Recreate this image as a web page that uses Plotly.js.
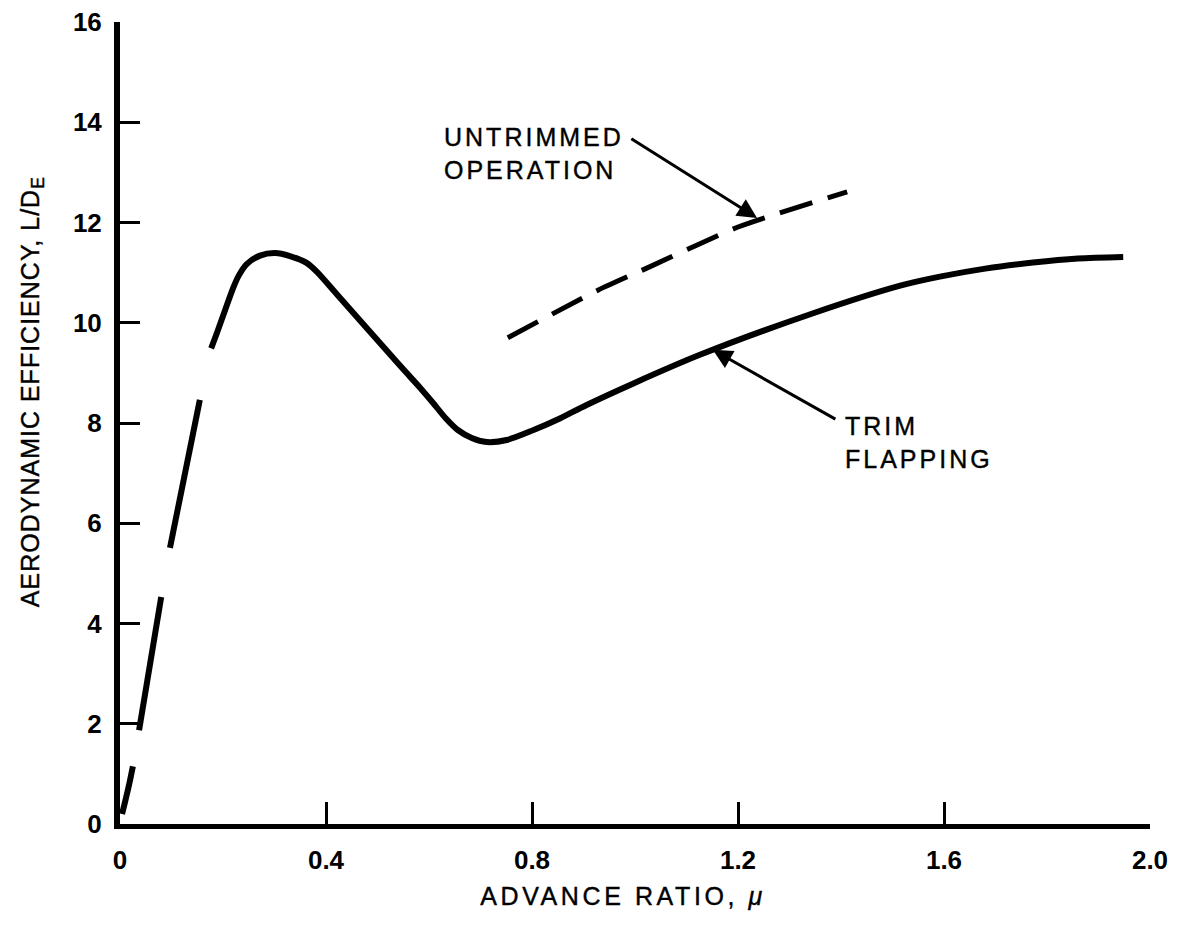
<!DOCTYPE html>
<html>
<head>
<meta charset="utf-8">
<script src="https://cdn.plot.ly/plotly-3.0.1.min.js"></script>
<style>
  html, body { margin: 0; padding: 0; background: #fff; }
  #chart { width: 1179px; height: 926px; }
  .annotation-text { letter-spacing: 3px; stroke: #000; stroke-width: 0.4px; }
  .annotation[data-index="0"] .annotation-text { letter-spacing: 3.6px; }
  .annotation[data-index="1"] .annotation-text { letter-spacing: 1px; }
</style>
</head>
<body>
<div id="chart"></div>
<script>
// Trim flapping curve (solid, drawn in broken pieces at low advance ratio)
const trimSeg1Mu = [0.004, 0.010, 0.018, 0.025];
const trimSeg1LD = [0.20, 0.45, 0.80, 1.15];
const trimSeg2Mu = [0.037, 0.080];
const trimSeg2LD = [1.87, 4.53];
const trimSeg3Mu = [0.097, 0.155];
const trimSeg3LD = [5.51, 8.46];
const trimMainMu = [0.177, 0.188, 0.204, 0.220, 0.230, 0.246, 0.272, 0.301, 0.330, 0.363, 0.382, 0.421, 0.544, 0.583, 0.608, 0.632, 0.656, 0.683, 0.712, 0.751, 0.803, 0.854, 0.906, 0.997, 1.126, 1.346, 1.515, 1.592, 1.680, 1.773, 1.860, 1.948];
const trimMainLD = [9.49, 9.79, 10.25, 10.70, 10.93, 11.17, 11.34, 11.39, 11.33, 11.19, 11.02, 10.57, 9.14, 8.70, 8.40, 8.10, 7.86, 7.70, 7.62, 7.66, 7.86, 8.09, 8.36, 8.79, 9.36, 10.19, 10.74, 10.92, 11.08, 11.20, 11.28, 11.31];

// Untrimmed operation (dashed)
const untrimMu = [0.753, 0.928, 1.023, 1.200, 1.412];
const untrimLD = [9.70, 10.65, 11.09, 11.91, 12.61];

// Axis ticks
const xTickVals = [0, 0.4, 0.8, 1.2, 1.6, 2.0];
const xTickText = ['0', '0.4', '0.8', '1.2', '1.6', '2.0'];
const yTickVals = [0, 2, 4, 6, 8, 10, 12, 14, 16];
const yTickText = ['0', '2', '4', '6', '8', '10', '12', '14', '16'];

// Labels
const xTitle = 'ADVANCE RATIO, <i>μ</i>';
const yTitle = 'AERODYNAMIC EFFICIENCY, L/D<sub>E</sub>';
const untrimLabel = 'UNTRIMMED<br>OPERATION';
const trimLabel = 'TRIM<br>FLAPPING';

const solid = {color: '#000', width: 6, shape: 'spline', smoothing: 0.8};
function seg(x, y, line) {
  return {x: x, y: y, type: 'scatter', mode: 'lines', line: line, hoverinfo: 'skip', showlegend: false};
}

const traces = [
  seg(trimSeg1Mu, trimSeg1LD, solid),
  seg(trimSeg2Mu, trimSeg2LD, solid),
  seg(trimSeg3Mu, trimSeg3LD, solid),
  seg(trimMainMu, trimMainLD, solid),
  seg(untrimMu, untrimLD, {color: '#000', width: 5, dash: '34px,16px', shape: 'spline', smoothing: 0.6})
];

const fam = 'Liberation Sans, Arial, Helvetica, sans-serif';
const textFont = {family: fam, size: 25, color: '#000'};
const tickFont = {family: fam, size: 26, color: '#000', weight: 'bold'};

const layout = {
  width: 1179, height: 926,
  margin: {l: 120, r: 29, t: 22, b: 102},
  paper_bgcolor: '#fff', plot_bgcolor: '#fff',
  showlegend: false,
  xaxis: {
    range: [0, 2.0], showgrid: false, zeroline: false,
    showline: true, linecolor: '#000', linewidth: 5,
    ticks: 'inside', ticklen: 22, tickwidth: 3, tickcolor: '#000',
    tickvals: xTickVals, ticktext: xTickText, tickfont: tickFont,
    ticklabelstandoff: 9
  },
  yaxis: {
    range: [0, 16], showgrid: false, zeroline: false,
    showline: true, linecolor: '#000', linewidth: 6,
    ticks: 'inside', ticklen: 20, tickwidth: 3, tickcolor: '#000',
    tickvals: yTickVals, ticktext: yTickText, tickfont: tickFont,
    ticklabelstandoff: 7
  },
  annotations: [
    {text: xTitle, xref: 'x', yref: 'paper', x: 0.976, y: -0.0898,
     xanchor: 'center', yanchor: 'middle', showarrow: false, font: textFont},
    {text: yTitle, xref: 'paper', yref: 'paper', x: -0.086, y: 0.539,
     xanchor: 'center', yanchor: 'middle', textangle: -90, showarrow: false, font: textFont},
    {text: untrimLabel, xref: 'x', yref: 'y', x: 0.625, y: 13.38,
     xanchor: 'left', yanchor: 'middle', align: 'left', showarrow: false, font: textFont},
    {text: trimLabel, xref: 'x', yref: 'y', x: 1.404, y: 7.62,
     xanchor: 'left', yanchor: 'middle', align: 'left', showarrow: false, font: textFont},
    {text: '', xref: 'x', yref: 'y', x: 1.237, y: 12.09, axref: 'x', ayref: 'y', ax: 0.990, ay: 13.69,
     showarrow: true, arrowhead: 2, arrowsize: 1.3, arrowwidth: 3, arrowcolor: '#000'},
    {text: '', xref: 'x', yref: 'y', x: 1.151, y: 9.46, axref: 'x', ayref: 'y', ax: 1.392, ay: 8.06,
     showarrow: true, arrowhead: 2, arrowsize: 1.3, arrowwidth: 3, arrowcolor: '#000'}
  ]
};

Plotly.newPlot('chart', traces, layout, {displayModeBar: false, staticPlot: true});
</script>
</body>
</html>
